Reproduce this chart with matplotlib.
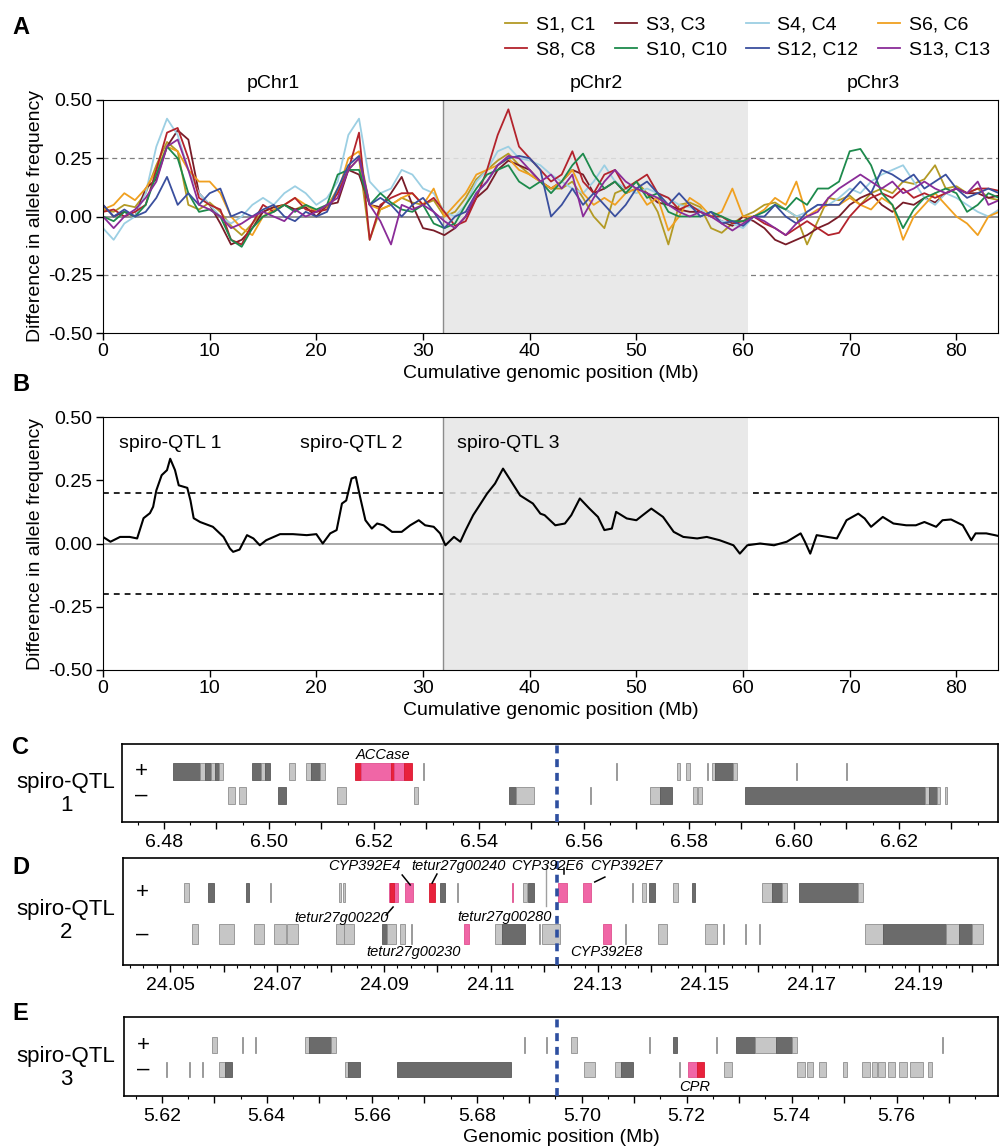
import matplotlib
matplotlib.use('Agg')
import matplotlib.pyplot as plt
from matplotlib.patches import Rectangle
from matplotlib.transforms import blended_transform_factory
import matplotlib.ticker as mticker

plt.rcParams['font.family'] = ['Liberation Sans', 'DejaVu Sans']

# ---------------- data: panel A (1-Mb steps) ----------------
POS_MB = list(range(0, 85))
S1 = [0.03, 0.02, 0.05, 0.04, 0.10, 0.22, 0.32, 0.28, 0.05, 0.03, 0.06, 0.02, -0.04, -0.08, -0.03, 0.02, 0.04, 0.05, 0.03, 0.05, 0.02,
      0.04, 0.12, 0.20, 0.25, -0.10, 0.03, 0.05, 0.08, 0.06, 0.05, 0.07,
      0.00, 0.02, 0.08, 0.16, 0.20, 0.24, 0.27, 0.22, 0.18, 0.15, 0.12, 0.12, 0.15, 0.08, 0.00, -0.05, 0.10, 0.12, 0.15, 0.10, 0.02,
      -0.12, 0.05, 0.06, 0.04, -0.05, -0.07, -0.03, 0.00,
      0.02, 0.05, 0.06, 0.03, 0.00, -0.12, -0.02, 0.08, 0.07, 0.09, 0.05, 0.10, 0.12, 0.10, 0.15, 0.14, 0.16, 0.22, 0.12, 0.13, 0.10,
      0.12, 0.08, 0.07]
S3 = [0.05, 0.00, 0.02, 0.00, 0.12, 0.16, 0.30, 0.37, 0.33, 0.10, 0.05, -0.03, -0.12, -0.10, -0.05, 0.02, 0.04, 0.05, 0.03, 0.04, 0.00,
      0.05, 0.06, 0.20, 0.18, 0.05, 0.04, 0.10, 0.17, 0.05, -0.05, -0.06,
      -0.08, -0.05, 0.00, 0.08, 0.12, 0.20, 0.24, 0.22, 0.20, 0.15, 0.12, 0.15, 0.20, 0.18, 0.10, 0.12, 0.15, 0.10, 0.12, 0.10, 0.06,
      0.05, 0.03, 0.02, 0.02, 0.00, -0.02, -0.04, 0.00,
      -0.02, -0.05, -0.10, -0.12, -0.10, -0.08, -0.05, -0.03, 0.00, 0.05, 0.08, 0.10, 0.05, 0.02, 0.06, 0.05, 0.08, 0.06, 0.10, 0.12,
      0.10, 0.10, 0.08, 0.09]
S4 = [-0.05, -0.10, -0.03, 0.00, 0.10, 0.30, 0.42, 0.35, 0.20, 0.10, 0.05, 0.00, -0.03, 0.00, 0.05, 0.08, 0.05, 0.10, 0.13, 0.10,
      0.05, 0.08, 0.15, 0.35, 0.42, 0.15, 0.10, 0.12, 0.20, 0.18, 0.12, 0.10,
      0.02, 0.00, 0.05, 0.15, 0.20, 0.28, 0.30, 0.25, 0.24, 0.22, 0.18, 0.15, 0.12, 0.10, 0.15, 0.22, 0.15, 0.12, 0.10, 0.12, 0.10,
      0.08, 0.05, 0.04, 0.03, 0.00, -0.02, -0.03, -0.05,
      0.00, 0.02, 0.05, 0.03, 0.00, 0.02, 0.05, 0.05, 0.08, 0.12, 0.10, 0.15, 0.18, 0.20, 0.22, 0.15, 0.08, 0.05, 0.10, 0.08, 0.05,
      0.02, 0.00, 0.03]
S6 = [0.03, 0.05, 0.10, 0.07, 0.12, 0.20, 0.30, 0.28, 0.20, 0.15, 0.15, 0.10, 0.00, -0.05, -0.08, 0.00, 0.03, 0.05, 0.08, 0.05, 0.02,
      0.05, 0.10, 0.25, 0.28, 0.05, 0.03, 0.05, 0.08, 0.10, 0.05, 0.12,
      0.00, 0.05, 0.10, 0.18, 0.20, 0.22, 0.25, 0.20, 0.18, 0.15, 0.12, 0.15, 0.20, 0.10, 0.05, 0.08, 0.05, 0.10, 0.12, 0.05, 0.08,
      -0.06, 0.00, 0.08, 0.05, 0.00, 0.02, 0.12, 0.00,
      0.00, 0.03, 0.08, 0.05, 0.15, 0.00, 0.03, 0.05, 0.05, 0.08, 0.05, 0.03, 0.08, 0.05, -0.10, 0.00, 0.05, 0.10, 0.05, 0.00, -0.03,
      -0.08, 0.00, 0.02]
S8 = [0.02, 0.03, 0.00, 0.02, 0.05, 0.20, 0.36, 0.38, 0.25, 0.08, 0.05, 0.03, -0.10, -0.12, -0.03, 0.05, 0.02, 0.05, 0.08, 0.03,
      0.02, 0.03, 0.10, 0.20, 0.36, -0.10, 0.05, 0.08, 0.10, 0.10, 0.05, 0.08,
      0.02, -0.04, -0.02, 0.08, 0.20, 0.35, 0.46, 0.30, 0.25, 0.20, 0.15, 0.18, 0.28, 0.15, 0.10, 0.18, 0.20, 0.12, 0.15, 0.18, 0.10,
      0.08, 0.03, 0.05, 0.02, 0.00, 0.00, -0.03, -0.02,
      0.00, -0.03, -0.05, -0.08, -0.05, -0.02, -0.05, -0.08, -0.07, 0.00, 0.05, 0.08, 0.10, 0.08, 0.12, 0.08, 0.10, 0.08, 0.10, 0.12,
      0.10, 0.12, 0.12, 0.11]
S10 = [0.00, -0.02, 0.02, 0.00, 0.05, 0.18, 0.30, 0.25, 0.10, 0.02, 0.03, 0.00, -0.10, -0.13, -0.05, 0.00, 0.02, 0.05, 0.02, 0.05,
       0.03, 0.05, 0.18, 0.20, 0.20, 0.05, 0.10, 0.06, 0.03, 0.02, 0.05, -0.03,
       -0.05, -0.03, 0.05, 0.12, 0.18, 0.20, 0.22, 0.15, 0.12, 0.15, 0.10, 0.15, 0.22, 0.27, 0.18, 0.12, 0.15, 0.10, 0.15, 0.08, 0.10,
       0.02, 0.00, 0.00, 0.00, 0.02, 0.00, -0.02, -0.02,
       0.00, 0.02, 0.05, 0.03, 0.08, 0.05, 0.12, 0.12, 0.15, 0.28, 0.29, 0.22, 0.10, 0.05, -0.05, 0.03, 0.08, 0.10, 0.12, 0.10, 0.02,
       0.05, 0.10, 0.08]
S12 = [0.05, 0.00, 0.03, 0.00, 0.02, 0.08, 0.17, 0.05, 0.10, 0.05, 0.10, 0.12, 0.00, 0.02, 0.00, 0.03, 0.05, 0.00, -0.02, 0.02,
       0.00, 0.02, 0.12, 0.22, 0.26, 0.05, 0.08, 0.05, 0.00, 0.05, 0.08, 0.02,
       -0.05, 0.00, 0.02, 0.10, 0.15, 0.22, 0.25, 0.26, 0.25, 0.20, 0.00, 0.05, 0.12, 0.05, 0.10, 0.05, 0.00, 0.05, 0.12, 0.15, 0.10,
       0.05, 0.10, 0.05, 0.00, 0.02, -0.03, -0.02, -0.04,
       0.00, 0.00, 0.05, 0.00, -0.03, 0.02, 0.05, 0.05, 0.05, 0.10, 0.15, 0.10, 0.20, 0.18, 0.15, 0.18, 0.12, 0.15, 0.18, 0.12, 0.08,
       0.10, 0.12, 0.10]
S13 = [0.00, -0.05, 0.00, 0.03, 0.08, 0.15, 0.30, 0.33, 0.20, 0.05, 0.03, 0.00, -0.05, -0.03, 0.00, 0.02, 0.00, -0.02, 0.03, 0.00,
       0.02, 0.05, 0.08, 0.20, 0.25, 0.05, -0.02, -0.12, 0.05, 0.03, 0.05, 0.02,
       -0.02, -0.05, 0.00, 0.10, 0.15, 0.22, 0.26, 0.25, 0.20, 0.15, 0.18, 0.12, 0.18, 0.00, 0.08, 0.15, 0.20, 0.15, 0.12, 0.10, 0.08,
       0.05, 0.02, 0.00, 0.02, 0.00, -0.03, -0.06, -0.03,
       0.00, -0.02, -0.05, -0.08, -0.03, 0.00, 0.02, 0.08, 0.12, 0.15, 0.18, 0.15, 0.12, 0.15, 0.10, 0.12, 0.15, 0.12, 0.10, 0.12,
       0.10, 0.15, 0.05, 0.07]
SERIES_LABELS = ['S1, C1', 'S3, C3', 'S4, C4', 'S6, C6', 'S8, C8', 'S10, C10', 'S12, C12', 'S13, C13']
SERIES_COLORS = ['#b39a25', '#781c28', '#9ccfe3', '#f0a020', '#b3232c', '#1d8a4c', '#3a4f9e', '#8a2c98']

# ---------------- data: panel B ----------------
B_POS = [0.0, 0.7, 1.6, 2.5, 3.2, 3.8, 4.4, 4.7, 5.0, 5.5, 6.0, 6.3, 6.75, 7.1, 7.9, 8.2, 8.5, 9.1, 10.3, 11.3, 11.9, 12.2,
         12.8, 13.5, 14.1, 14.7, 15.3, 16.6, 17.8, 19.1, 20.0, 20.6, 21.3, 21.9, 22.4, 22.8, 23.3, 23.7, 24.1, 24.6, 25.2,
         25.7, 26.3, 27.1, 28.0, 28.8, 29.6, 30.2, 31.0, 31.6, 32.1, 32.9, 33.5, 34.0, 34.7, 35.3, 36.0, 36.75, 37.5, 38.2,
         39.1, 40.3, 41.0, 41.4, 42.4, 43.3, 43.9, 44.7, 45.6, 46.4, 47.0, 47.7, 48.1, 49.1, 50.0, 50.6, 51.4, 52.5, 53.5,
         54.4, 55.7, 56.6, 57.8, 59.1, 59.7, 60.4, 61.6, 62.9, 64.1, 65.4, 65.8, 66.3, 66.9, 67.9, 68.8, 69.7, 70.8, 71.4,
         72.0, 73.1, 74.1, 75.3, 76.2, 77.0, 78.1, 78.7, 79.5, 80.6, 81.4, 81.8, 82.8, 83.6, 83.9]
B_VAL = [0.026, 0.007, 0.026, 0.026, 0.02, 0.10, 0.12, 0.145, 0.21, 0.27, 0.29, 0.335, 0.29, 0.23, 0.22, 0.17, 0.10, 0.085,
         0.066, 0.026, -0.02, -0.033, -0.024, 0.033, 0.02, -0.007, 0.013, 0.037, 0.037, 0.033, 0.037, 0.0, 0.04, 0.053,
         0.158, 0.17, 0.257, 0.263, 0.184, 0.092, 0.059, 0.079, 0.072, 0.046, 0.046, 0.072, 0.092, 0.072, 0.066, 0.04,
         -0.007, 0.026, 0.007, 0.053, 0.112, 0.151, 0.197, 0.237, 0.296, 0.25, 0.19, 0.158, 0.118, 0.112, 0.072, 0.079,
         0.112, 0.178, 0.138, 0.105, 0.053, 0.059, 0.125, 0.099, 0.092, 0.112, 0.138, 0.105, 0.046, 0.026, 0.02, 0.026,
         0.013, -0.007, -0.04, -0.007, 0.0, -0.007, 0.007, 0.04, 0.007, -0.04, 0.033, 0.026, 0.02, 0.092, 0.118, 0.099,
         0.066, 0.105, 0.079, 0.072, 0.072, 0.085, 0.066, 0.092, 0.095, 0.072, 0.013, 0.04, 0.04, 0.033, 0.03]

CHROM_NAMES = ['pChr1', 'pChr2', 'pChr3']
CHROM_CENTERS = [15.95, 46.2, 72.2]
SHADE_RANGE = (31.9, 60.5)
QTL_NAMES = ['spiro-QTL 1', 'spiro-QTL 2', 'spiro-QTL 3']
QTL_X = [6.3, 23.3, 38.0]

# ---------------- data: gene tracks ----------------
C_PLUS = [(6.4817, 6.4869, 'd'), (6.4869, 6.4878, 'l'), (6.4878, 6.4890, 'd'), (6.4890, 6.4898, 'l'), (6.4898, 6.4905, 'd'),
          (6.4905, 6.4912, 'l'), (6.4968, 6.4985, 'd'), (6.4985, 6.4992, 'l'), (6.4992, 6.5002, 'd'), (6.5038, 6.5050, 'l'),
          (6.5070, 6.5080, 'l'), (6.5080, 6.5098, 'd'), (6.5098, 6.5107, 'l'),
          (6.5164, 6.5176, 'r'), (6.5176, 6.5232, 'p'), (6.5232, 6.5238, 'r'), (6.5238, 6.5258, 'p'), (6.5258, 6.5272, 'r'),
          (6.5293, 6.5295, 'l'), (6.5661, 6.5663, 'l'), (6.5777, 6.5784, 'l'), (6.5795, 6.5802, 'l'), (6.5834, 6.5836, 'l'),
          (6.5844, 6.5850, 'l'), (6.5850, 6.5884, 'd'), (6.5884, 6.5891, 'l'), (6.6004, 6.6006, 'l'), (6.6099, 6.6101, 'l')]
C_MINUS = [(6.4922, 6.4935, 'l'), (6.4942, 6.4956, 'l'), (6.5017, 6.5032, 'd'), (6.5130, 6.5147, 'l'), (6.5276, 6.5284, 'l'),
           (6.5457, 6.5470, 'd'), (6.5470, 6.5505, 'l'), (6.5611, 6.5614, 'l'), (6.5726, 6.5745, 'l'), (6.5745, 6.5768, 'd'),
           (6.5808, 6.5815, 'l'), (6.5818, 6.5825, 'l'), (6.5907, 6.6250, 'd'), (6.6250, 6.6258, 'l'), (6.6258, 6.6272, 'd'),
           (6.6272, 6.6278, 'l'), (6.6288, 6.6292, 'l')]
D_PLUS = [(24.0526, 24.0536, 'l'), (24.0571, 24.0582, 'd'), (24.0642, 24.0648, 'd'), (24.0687, 24.0689, 'l'),
          (24.0816, 24.0819, 'l'), (24.0823, 24.0827, 'l'), (24.0909, 24.0926, 'p'), (24.0912, 24.0918, 'r'),
          (24.0939, 24.0954, 'p'), (24.0984, 24.0995, 'r'), (24.1005, 24.1014, 'd'), (24.1036, 24.1038, 'l'),
          (24.1139, 24.1141, 'p'), (24.1160, 24.1167, 'l'), (24.1170, 24.1180, 'd'), (24.1225, 24.1242, 'p'),
          (24.1272, 24.1287, 'p'), (24.1363, 24.1365, 'l'), (24.1382, 24.1390, 'l'), (24.1395, 24.1406, 'd'),
          (24.1440, 24.1449, 'l'), (24.1476, 24.1481, 'd'), (24.1606, 24.1625, 'l'), (24.1625, 24.1645, 'd'),
          (24.1645, 24.1653, 'l'), (24.1676, 24.1786, 'd'), (24.1786, 24.1795, 'l')]
D_MINUS = [(24.0541, 24.0552, 'l'), (24.0592, 24.0620, 'l'), (24.0657, 24.0676, 'l'), (24.0694, 24.0717, 'l'),
           (24.0719, 24.0739, 'l'), (24.0810, 24.0825, 'l'), (24.0825, 24.0844, 'l'), (24.0896, 24.0905, 'd'),
           (24.0905, 24.0922, 'l'), (24.0930, 24.0939, 'l'), (24.0950, 24.0952, 'l'), (24.1049, 24.1059, 'p'),
           (24.1107, 24.1120, 'l'), (24.1120, 24.1163, 'd'), (24.1190, 24.1192, 'l'), (24.1195, 24.1229, 'l'),
           (24.1309, 24.1324, 'p'), (24.1350, 24.1352, 'l'), (24.1412, 24.1429, 'l'), (24.1500, 24.1522, 'l'),
           (24.1534, 24.1536, 'l'), (24.1575, 24.1577, 'l'), (24.1601, 24.1603, 'l'), (24.1799, 24.1833, 'l'),
           (24.1833, 24.1950, 'd'), (24.1950, 24.1975, 'l'), (24.1975, 24.2000, 'd'), (24.2000, 24.2020, 'l')]
E_PLUS = [(5.6296, 5.6305, 'l'), (5.6352, 5.6354, 'l'), (5.6377, 5.6379, 'l'), (5.6472, 5.6480, 'l'), (5.6480, 5.6522, 'd'),
          (5.6522, 5.6531, 'l'), (5.6890, 5.6892, 'l'), (5.6932, 5.6934, 'l'), (5.6979, 5.6991, 'l'), (5.7128, 5.7130, 'l'),
          (5.7173, 5.7181, 'd'), (5.7255, 5.7257, 'l'), (5.7293, 5.7330, 'd'), (5.7330, 5.7370, 'l'), (5.7370, 5.7400, 'd'),
          (5.7400, 5.7410, 'l'), (5.7686, 5.7688, 'l')]
E_MINUS = [(5.6208, 5.6210, 'l'), (5.6251, 5.6253, 'l'), (5.6276, 5.6278, 'l'), (5.6309, 5.6320, 'l'), (5.6320, 5.6333, 'd'),
           (5.6549, 5.6555, 'l'), (5.6555, 5.6577, 'd'), (5.6648, 5.6865, 'd'), (5.7004, 5.7025, 'l'), (5.7063, 5.7074, 'l'),
           (5.7074, 5.7097, 'd'), (5.7185, 5.7187, 'l'), (5.7202, 5.7220, 'p'), (5.7220, 5.7233, 'r'), (5.7271, 5.7286, 'l'),
           (5.7410, 5.7425, 'l'), (5.7429, 5.7440, 'l'), (5.7452, 5.7465, 'l'), (5.7497, 5.7505, 'l'), (5.7533, 5.7549, 'l'),
           (5.7553, 5.7562, 'l'), (5.7564, 5.7577, 'l'), (5.7583, 5.7596, 'l'), (5.7604, 5.7619, 'l'), (5.7625, 5.7650, 'l'),
           (5.7659, 5.7667, 'l')]
C_XLIM = (6.4720, 6.6389)
D_XLIM = (24.0412, 24.2048)
E_XLIM = (5.6128, 5.7793)
C_TICKS = [6.48, 6.50, 6.52, 6.54, 6.56, 6.58, 6.60, 6.62]
D_TICKS = [24.05, 24.07, 24.09, 24.11, 24.13, 24.15, 24.17, 24.19]
E_TICKS = [5.62, 5.64, 5.66, 5.68, 5.70, 5.72, 5.74, 5.76]
C_MARK, D_MARK, E_MARK = 6.5549, 24.1223, 5.6952

KIND_COLORS = {'d': '#6b6b6b', 'l': '#c6c6c6', 'p': '#f066a6', 'r': '#e8223c'}
KIND_EDGE = {'d': '#5a5a5a', 'l': '#8f8f8f', 'p': '#e0508f', 'r': '#d81830'}

W, H = 1000, 1147
fig = plt.figure(figsize=(W / 100, H / 100), dpi=100)


def fx(px):
    return px / W


def fy(py):
    return 1 - py / H


def box(l, t, r, b):
    return [fx(l), fy(b), (r - l) / W, (b - t) / H]


FS = 14

# ---------------- panel A ----------------
axA = fig.add_axes(box(103, 100, 998, 333))
axA.axhline(0, color='#8a8a8a', lw=1.3, zorder=0.5)
for yv in (0.25, -0.25):
    axA.axhline(yv, color='#808080', lw=0.9, ls=(0, (4, 3)), zorder=0.5)
axA.axvspan(*SHADE_RANGE, color='#e6e6e6', alpha=0.85, lw=0, zorder=1)
axA.axvline(SHADE_RANGE[0], color='#8c8c8c', lw=1.0, zorder=1.2)
series = [S1, S3, S4, S6, S8, S10, S12, S13]
handles = []
for vals, lab, col in zip(series, SERIES_LABELS, SERIES_COLORS):
    h, = axA.plot(POS_MB, vals, color=col, lw=1.3, label=lab, zorder=2)
    handles.append(h)
axA.set_xlim(0, 83.9)
axA.set_ylim(-0.5, 0.5)
axA.set_yticks([-0.5, -0.25, 0, 0.25, 0.5])
axA.yaxis.set_major_formatter(mticker.FormatStrFormatter('%.2f'))
axA.set_xticks(range(0, 90, 10))
axA.tick_params(labelsize=FS, length=5, width=1, pad=2.5)
axA.set_xlabel('Cumulative genomic position (Mb)', fontsize=FS, labelpad=3)
axA.set_ylabel('Difference in allele frequency', fontsize=FS, labelpad=3)
trA = blended_transform_factory(axA.transData, axA.transAxes)
for name, cx in zip(CHROM_NAMES, CHROM_CENTERS):
    axA.text(cx, 1.035, name, transform=trA, ha='center', va='bottom', fontsize=FS)

order = [0, 4, 1, 5, 2, 6, 3, 7]
fig.legend([handles[i] for i in order], [SERIES_LABELS[i] for i in order], ncol=4,
           loc='upper right', bbox_to_anchor=(fx(1000), fy(6)), frameon=False, fontsize=FS,
           borderpad=0, handlelength=1.15, handletextpad=0.45, columnspacing=1.0, labelspacing=0.4)

# ---------------- panel B ----------------
axB = fig.add_axes(box(103, 417, 998, 670))
axB.axhline(0, color='#9a9a9a', lw=1.2, zorder=0.5)
for yv in (0.2, -0.2):
    axB.axhline(yv, color='black', lw=1.2, ls=(0, (3.5, 3)), zorder=0.5)
axB.axvspan(*SHADE_RANGE, color='#e6e6e6', alpha=0.85, lw=0, zorder=1)
axB.axvline(SHADE_RANGE[0], color='#8c8c8c', lw=1.0, zorder=1.2)
axB.plot(B_POS, B_VAL, color='black', lw=1.5, zorder=2)
axB.set_xlim(0, 83.9)
axB.set_ylim(-0.5, 0.5)
axB.set_yticks([-0.5, -0.25, 0, 0.25, 0.5])
axB.yaxis.set_major_formatter(mticker.FormatStrFormatter('%.2f'))
axB.set_xticks(range(0, 90, 10))
axB.tick_params(labelsize=FS, length=5, width=1, pad=2.5)
axB.set_xlabel('Cumulative genomic position (Mb)', fontsize=FS, labelpad=3)
axB.set_ylabel('Difference in allele frequency', fontsize=FS, labelpad=3)
for name, qx in zip(QTL_NAMES, QTL_X):
    axB.text(qx, 0.395, name, ha='center', va='center', fontsize=FS, zorder=3)


# ---------------- gene tracks ----------------
def track(rect, plus, minus, xlim, ticks, mark, rows, rowh, minor, xlabel=None):
    ax = fig.add_axes(rect)
    ax.set_xlim(*xlim)
    ax.set_ylim(0, 1)
    ax.set_yticks([])
    for genes, yc in ((plus, rows[0]), (minus, rows[1])):
        for s, e, k in genes:
            ax.add_patch(Rectangle((s, yc - rowh / 2), max(e - s, 0.00025), rowh,
                                   facecolor=KIND_COLORS[k], edgecolor=KIND_EDGE[k], lw=0.6, zorder=2))
    ax.axvline(mark, color='#2e4fa0', lw=2.6, ls=(0, (2.2, 1.6)), zorder=3)
    ax.text(0.022, rows[0], '+', transform=ax.transAxes, ha='center', va='center', fontsize=16)
    ax.text(0.022, rows[1], '\u2013', transform=ax.transAxes, ha='center', va='center', fontsize=16)
    step = round(ticks[1] - ticks[0], 4) / 2
    allt = [round(ticks[0] - step + i * step, 4) for i in range(0, 2 * len(ticks) + 2)]
    allt = [t for t in allt if xlim[0] <= t <= xlim[1]]
    ax.set_xticks(allt)
    labs = [('%.2f' % t) if any(abs(t - tt) < 1e-6 for tt in ticks) else '' for t in allt]
    ax.set_xticklabels(labs)
    ax.xaxis.set_minor_locator(mticker.MultipleLocator(minor))
    ax.tick_params(axis='x', which='major', labelsize=FS, length=5, width=1, pad=3.5)
    ax.tick_params(axis='x', which='minor', length=2.5, width=0.8)
    for sp in ax.spines.values():
        sp.set_linewidth(1.2)
    if xlabel:
        ax.set_xlabel(xlabel, fontsize=FS, labelpad=3)
    return ax


axC = track(box(122, 744, 998, 822), C_PLUS, C_MINUS, C_XLIM, C_TICKS, C_MARK, (0.65, 0.34), 0.22, 0.005)
axD = track(box(123, 858, 998, 965), D_PLUS, D_MINUS, D_XLIM, D_TICKS, D_MARK, (0.68, 0.29), 0.18, 0.0025)
axE = track(box(124, 1017, 998, 1096), E_PLUS, E_MINUS, E_XLIM, E_TICKS, E_MARK, (0.645, 0.335), 0.2, 0.005,
            xlabel='Genomic position (Mb)')

# gene labels
GL = dict(fontsize=10.5, style='italic', va='center')
trC = blended_transform_factory(axC.transData, axC.transAxes)
axC.text(6.5217, 0.86, 'ACCase', transform=trC, ha='center', **GL)
trD = blended_transform_factory(axD.transData, axD.transAxes)
axD.text(24.0931, 0.925, 'CYP392E4', transform=trD, ha='right', **GL)
axD.text(24.0952, 0.925, 'tetur27g00240', transform=trD, ha='left', **GL)
axD.text(24.1137, 0.925, 'CYP392E6', transform=trD, ha='left', **GL)
axD.text(24.1285, 0.925, 'CYP392E7', transform=trD, ha='left', **GL)
axD.text(24.0820, 0.44, 'tetur27g00220', transform=trD, ha='center', **GL)
axD.text(24.1126, 0.45, 'tetur27g00280', transform=trD, ha='center', **GL)
axD.text(24.0956, 0.12, 'tetur27g00230', transform=trD, ha='center', **GL)
axD.text(24.1315, 0.12, 'CYP392E8', transform=trD, ha='center', **GL)
for (x0, x1), (y0, y1) in [((24.0934, 24.0949), (0.841, 0.748)), ((24.0999, 24.0990), (0.850, 0.766)),
                           ((24.1236, 24.1236), (0.907, 0.850)), ((24.1313, 24.1294), (0.822, 0.776)),
                           ((24.0904, 24.0917), (0.467, 0.542))]:
    axD.plot([x0, x1], [y0, y1], transform=trD, color='black', lw=1.1, zorder=4)
axD.plot([24.1203, 24.1203], [0.93, 0.551], transform=trD, color='#a0a0a0', lw=1.0, zorder=2)
trE = blended_transform_factory(axE.transData, axE.transAxes)
axE.text(5.7215, 0.11, 'CPR', transform=trE, ha='center', **GL)

# side labels
for py, num in ((794, '1'), (921, '2'), (1068, '3')):
    fig.text(fx(66), fy(py), 'spiro-QTL\n' + num, ha='center', va='center', fontsize=16, linespacing=1.15)

for lab, py in (('A', 27), ('B', 384), ('C', 747), ('D', 867), ('E', 1014)):
    fig.text(fx(12), fy(py), lab, ha='left', va='center', fontsize=17, fontweight='bold')

fig.savefig('out.png', dpi=100)
